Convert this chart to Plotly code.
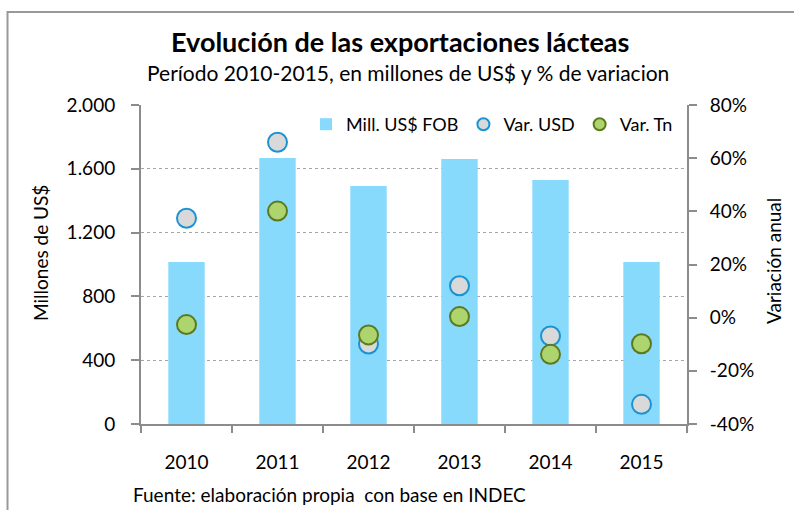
import plotly.graph_objects as go

years = ["2010", "2011", "2012", "2013", "2014", "2015"]
fob_musd = [1015, 1668, 1492, 1661, 1530, 1016]
var_usd = [37.4, 66.0, -9.9, 12.0, -6.9, -32.6]
var_tn = [-2.6, 40.1, -6.5, 0.4, -13.8, -9.8]

y1_ticks = [0, 400, 800, 1200, 1600, 2000]
y2_ticks = [-40, -20, 0, 20, 40, 60, 80]
y2_text = ["-40%", "-20%", "0%", "20%", "40%", "60%", "80%"]

FONT = "Lato"
W, H = 794, 510
L, R, T, B = 141, 107, 105, 86
pw, ph = W - L - R, H - T - B

def px_x(x):
    return (x - L) / pw

def px_y(y):
    return (H - B - y) / ph

fig = go.Figure()
fig.add_trace(go.Bar(
    x=years, y=fob_musd, name="Mill. US$ FOB",
    marker=dict(color="#87DAFC", line=dict(width=0)),
    width=0.4,
))
fig.add_trace(go.Scatter(
    x=years, y=var_usd, name="Var. USD", mode="markers", yaxis="y2",
    marker=dict(size=19, color="#D9D9D9", line=dict(color="#1B93D3", width=2)),
))
fig.add_trace(go.Scatter(
    x=years, y=var_tn, name="Var. Tn", mode="markers", yaxis="y2",
    marker=dict(size=19, color="#AED46E", line=dict(color="#5B7A1E", width=2)),
))

axis_col = "#8C8C8C"
fig.update_layout(
    width=W, height=H,
    margin=dict(l=L, r=R, t=T, b=B, autoexpand=False),
    paper_bgcolor="white", plot_bgcolor="white",
    separators=",.",
    font=dict(family=FONT, size=19, color="#000000"),
    showlegend=True,
    legend=dict(
        orientation="h", x=px_x(306), y=px_y(106), xanchor="left", yanchor="top",
        font=dict(size=18), bgcolor="rgba(0,0,0,0)", itemwidth=30,
        itemsizing="constant",
        traceorder="normal", tracegroupgap=0,
    ),
    bargap=0.6,
    xaxis=dict(
        type="category", showline=True, linecolor=axis_col, linewidth=2,
        ticks="outside", tickson="boundaries", ticklen=7, tickcolor=axis_col,
        tickwidth=2, showgrid=False, ticklabelstandoff=20,
        tickfont=dict(size=19), fixedrange=True,
    ),
    yaxis=dict(
        range=[0, 2000], tickvals=y1_ticks, tickformat=",d",
        showline=True, linecolor=axis_col, linewidth=2,
        ticks="outside", ticklen=8, tickcolor=axis_col, tickwidth=2,
        showgrid=True, gridcolor="#A6A6A6", griddash="dot", gridwidth=1,
        zeroline=False, ticklabelstandoff=12, tickfont=dict(size=19),
    ),
    yaxis2=dict(
        range=[-40, 80], tickvals=y2_ticks, ticktext=y2_text,
        overlaying="y", side="right",
        showline=True, linecolor=axis_col, linewidth=2,
        ticks="outside", ticklen=8, tickcolor=axis_col, tickwidth=2,
        showgrid=False, zeroline=False, ticklabelstandoff=9,
        tickfont=dict(size=19),
    ),
)

annotations = [
    dict(text="<b>Evolución de las exportaciones lácteas</b>", x=px_x(400), y=px_y(42),
         font=dict(size=27)),
    dict(text="Período 2010-2015, en millones de US$ y % de variacion", x=px_x(408), y=px_y(73),
         font=dict(size=21)),
    dict(text="Millones de US$", x=px_x(40), y=px_y(253), textangle=-90,
         font=dict(size=19)),
    dict(text="Variación anual", x=px_x(773), y=px_y(261), textangle=-90,
         font=dict(size=19)),
    dict(text="Fuente: elaboración propia  con base en INDEC", x=px_x(131), y=px_y(494),
         xanchor="left", font=dict(size=19)),
]
for a in annotations:
    a.update(xref="paper", yref="paper", showarrow=False)
    a.setdefault("xanchor", "center")
    a.setdefault("yanchor", "middle")
fig.update_layout(annotations=annotations)

# outer chart frame (extends past the right and bottom edges, as in the reference)
fig.add_shape(type="rect", xref="paper", yref="paper",
              x0=px_x(7.5), y0=px_y(530), x1=px_x(820), y1=px_y(12),
              line=dict(color="#999999", width=2), fillcolor="rgba(0,0,0,0)", layer="below")

fig.write_html(
    "out.html",
    config={"displayModeBar": False},
    post_script="document.body.style.margin='0px';document.body.style.overflow='hidden';",
)
